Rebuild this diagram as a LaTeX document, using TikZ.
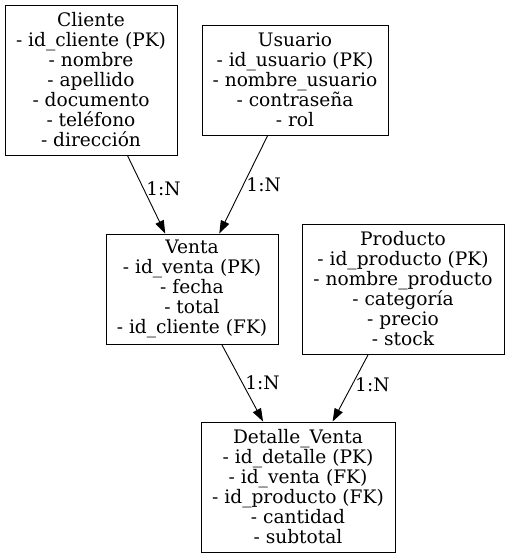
\documentclass[tikz,border=0pt]{standalone}
\usepackage{fontspec}
\setmainfont{DejaVu Serif}
\usetikzlibrary{arrows.meta}
\tikzset{
  entity/.style={draw, line width=0.9pt, align=center, inner sep=0pt, font=\fontsize{18.6}{20}\selectfont},
  rel/.style={-{Triangle[length=13pt,width=9pt]}, line width=0.9pt},
  card/.style={font=\fontsize{18.6}{20}\selectfont, inner sep=2.5pt}
}
\begin{document}
\begin{tikzpicture}[x=1pt,y=-1pt]
  \useasboundingbox (0,0) rectangle (509,559);

  % Cliente entity
  \node[entity, minimum width=172pt, minimum height=150pt] (cliente) at (91,80) {Cliente\\- id\_cliente (PK)\\- nombre\\- apellido\\- documento\\- teléfono\\- dirección};

  % Usuario entity
  \node[entity, minimum width=186pt, minimum height=110pt] (usuario) at (295,80) {Usuario\\- id\_usuario (PK)\\- nombre\_usuario\\- contraseña\\- rol};

  % Venta entity
  \node[entity, minimum width=172pt, minimum height=110pt] (venta) at (192,289) {Venta\\- id\_venta (PK)\\- fecha\\- total\\- id\_cliente (FK)};

  % Producto entity
  \node[entity, minimum width=202pt, minimum height=130pt] (producto) at (403,289) {Producto\\- id\_producto (PK)\\- nombre\_producto\\- categoría\\- precio\\- stock};

  % Detalle_Venta entity
  \node[entity, minimum width=194pt, minimum height=130pt] (detalle) at (298,487) {Detalle\_Venta\\- id\_detalle (PK)\\- id\_venta (FK)\\- id\_producto (FK)\\- cantidad\\- subtotal};

  % Relationships
  \draw[rel] (cliente) -- node[card, right, pos=0.42] {1:N} (venta);
  \draw[rel] (usuario) -- node[card, right, pos=0.5] {1:N} (venta);
  \draw[rel] (venta) -- node[card, right, pos=0.5] {1:N} (detalle);
  \draw[rel] (producto) -- node[card, right, pos=0.45] {1:N} (detalle);

\end{tikzpicture}
\end{document}
